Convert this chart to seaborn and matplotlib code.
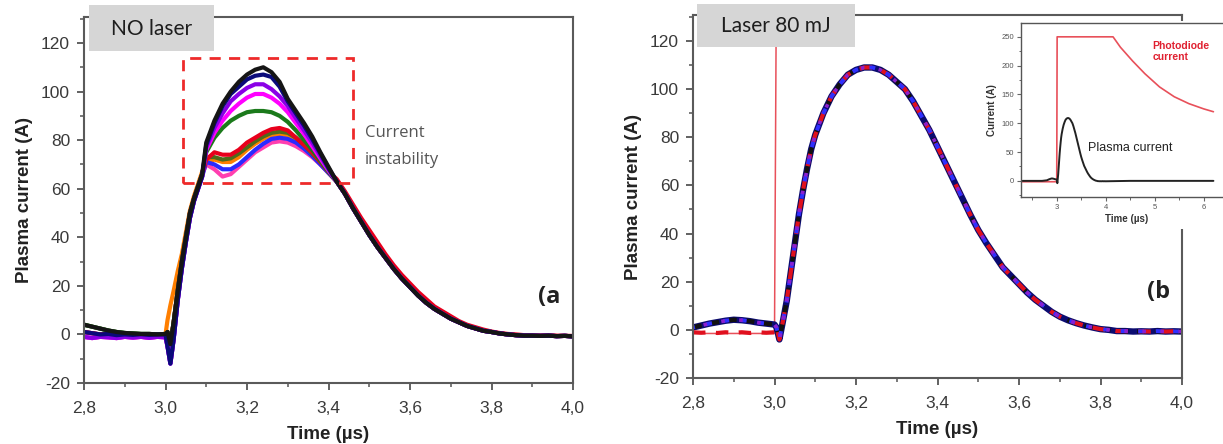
import matplotlib
matplotlib.use("Agg")
import matplotlib.pyplot as plt
import matplotlib.patches as mpatches
from matplotlib.ticker import MultipleLocator, FuncFormatter
import pandas as pd
import seaborn as sns

# ---------------------------------------------------------------- time base (µs)
time_pre = [2.80, 2.82, 2.84, 2.86, 2.88, 2.90, 2.92, 2.94, 2.96, 2.98, 3.00]
time_rise = [3.005, 3.012, 3.02, 3.03, 3.04, 3.05, 3.06, 3.07, 3.08, 3.09]
time_peak = [3.10, 3.12, 3.14, 3.16, 3.18, 3.20, 3.22, 3.24, 3.26, 3.28,
             3.30, 3.32, 3.34, 3.36, 3.38, 3.40]
time_tail = [3.42, 3.44, 3.46, 3.48, 3.50, 3.52, 3.54, 3.56, 3.58, 3.60,
             3.62, 3.64, 3.66, 3.68, 3.70, 3.72, 3.74, 3.76, 3.78, 3.80,
             3.82, 3.84, 3.86, 3.88, 3.90, 3.92, 3.94, 3.96, 3.98, 4.00]

# ---------------------------------------------------------------- (a) no laser
base_a_hi = [4.0, 3.2, 2.4, 1.6, 1.0, 0.6, 0.4, 0.2, 0.2, 0.0, 0.2]
base_a = [1.0, 0.5, 0.0, 0.2, -0.3, 0.0, -0.2, 0.1, -0.2, 0.0, 0.0]
base_a_lo = [-1.0, -1.5, -1.0, -1.2, -1.5, -1.0, -1.3, -1.0, -1.4, -1.0, -1.2]

rise_a = [1.0, -4.0, 5.0, 18.0, 30.0, 40.0, 50.0, 56.0, 61.0, 66.0]
rise_a_dip = [-5.0, -12.0, -2.0, 14.0, 27.0, 38.0, 48.0, 55.0, 60.0, 65.0]
rise_a_early = [6.0, 12.0, 18.0, 26.0, 33.0, 42.0, 51.0, 57.0, 62.0, 67.0]

peak_black = [79, 88, 95, 100, 104, 107, 109, 110, 108, 104, 97, 92, 87, 81.5, 75, 69]
peak_navy = [78, 87, 94, 99, 102, 105, 106.5, 107, 106, 102, 96, 91, 86, 80.5, 74.5, 68.5]
peak_purple = [77, 85, 91, 96, 99, 101.5, 103, 103, 101, 98, 94, 89, 84, 79, 73.5, 68]
peak_magenta = [76, 83, 88, 92, 95, 97.5, 99, 99, 97.5, 95, 91.5, 87, 82.5, 77.5, 72.5, 67.5]
peak_green = [75, 81, 85, 88, 90, 91.5, 92, 92, 91.5, 90, 87.5, 84, 80, 76, 71.5, 67]
peak_red = [72, 75, 74, 74, 76, 79, 81, 83, 84.5, 85, 84, 81, 78, 75, 71, 67]
peak_orange = [71, 72, 71, 71, 73, 76, 78.5, 80.5, 82, 82.5, 82, 80, 77, 74, 70.5, 66.5]
peak_pink = [70, 68, 65, 66, 69, 72, 75, 77, 79, 79.5, 79, 77.5, 75.5, 73, 70, 66.5]
peak_blue_low = [71, 70, 68, 68, 70, 73, 76, 78.5, 80.5, 81, 80.5, 79, 76.5, 73.5, 70, 66.5]
peak_olive_low = [73, 73, 72, 72.5, 74.5, 77, 79.5, 81.5, 83, 83.5, 83, 81, 78, 74.5, 71, 67]

tail_a = [63, 58, 52, 46.5, 41, 36, 31.5, 27, 23, 19.5, 16, 13, 10.5, 8.5, 6.5,
          5, 3.5, 2.5, 1.5, 1, 0.4, 0, -0.3, -0.5, -0.5, -0.6, -0.5, -0.7, -0.6, -0.8]
tail_a_hi = [64, 59, 53.5, 48, 43, 38, 33, 28.5, 24.5, 21, 17.5, 14.5, 11.5, 9.5, 7.5,
             5.5, 4, 3, 2, 1.2, 0.6, 0.2, 0, -0.3, -0.4, -0.5, -0.4, -0.5, -0.6, -0.6]

shots_a = [
    # colour, baseline, rise, peak, tail
    ("#ff7f00", base_a, rise_a_early, peak_orange, tail_a),
    ("#ff3fb0", base_a_lo, rise_a, peak_pink, tail_a),
    ("#2a2aff", base_a, rise_a_dip, peak_blue_low, tail_a),
    ("#4f6b1a", base_a_hi, rise_a, peak_olive_low, tail_a),
    ("#e8001c", base_a, rise_a, peak_red, tail_a_hi),
    ("#1b7a1b", base_a_hi, rise_a, peak_green, tail_a),
    ("#ff00ff", base_a_lo, rise_a_dip, peak_magenta, tail_a),
    ("#8a00e6", base_a_lo, rise_a_dip, peak_purple, tail_a),
    ("#0a0a7a", base_a, rise_a_dip, peak_navy, tail_a),
    ("#151515", base_a_hi, rise_a, peak_black, tail_a),
]

# ---------------------------------------------------------------- (b) laser 80 mJ
base_b_bump = [1.0, 1.8, 2.6, 3.2, 3.8, 4.2, 4.0, 3.6, 3.0, 2.6, 2.2]
base_b_red = [-1.0, -1.2, -1.0, -1.3, -1.0, -1.2, -1.0, -1.3, -1.0, -1.2, -1.0]
rise_b = [1.0, -4.0, 3.0, 12.0, 24.0, 36.0, 48.0, 58.0, 67.0, 75.0]
peak_b = [81, 90, 97, 102, 106, 108, 109, 109, 108, 106, 103, 100, 95, 89, 83, 76]
tail_b = [69, 62, 55, 48, 41.5, 36, 31, 26, 22.5, 19, 15.5, 12.5, 10, 7.5, 5.5,
          4, 2.8, 1.8, 1, 0.3, 0, -0.5, -0.5, -0.7, -0.6, -0.7, -0.5, -0.7, -0.6, -0.7]

shots_b = [
    # colour, baseline, linestyle, width
    ("#0b0b70", base_b_bump, "-", 4.6),
    ("#111111", base_b_bump, (0, (2, 2)), 3.2),
    ("#e0101e", base_b_red, (0, (3, 2.5)), 3.0),
    ("#2f2fff", base_b_bump, (1, (1.5, 3)), 2.8),
    ("#8a1fd0", base_b_bump, (2, (1, 4)), 2.6),
]

# photodiode signal (laser trigger)
photo_time = [2.27, 2.80, 2.99, 3.0, 3.008, 4.15, 4.30, 4.55, 4.80, 5.10, 5.40, 5.70, 6.00, 6.20]
photo_current = [-1.5, -1.5, -1.5, -1.5, 250, 250, 232, 208, 186, 163, 146, 134, 125, 120]

# plasma current over a longer window (inset)
inset_lead_time = [2.30, 2.50, 2.70]
inset_lead = [0.0, 0.0, 0.0]
inset_trail_time = [4.5, 5.0, 5.5, 6.0, 6.2]
inset_trail = [0.0, 0.0, 0.0, 0.0, 0.0]

x_ticks = [2.8, 3.0, 3.2, 3.4, 3.6, 3.8, 4.0]
y_ticks = [-20, 0, 20, 40, 60, 80, 100, 120]

# ---------------------------------------------------------------- styling
sns.set_theme(style="ticks")
plt.rcParams["font.family"] = ["Liberation Sans", "DejaVu Sans"]
plt.rcParams["axes.unicode_minus"] = False

W, H = 1223, 444
fig = plt.figure(figsize=(W / 100, H / 100), dpi=100)
fig.patch.set_facecolor("white")


def fx(px):
    return px / W


def fy(py):
    return 1 - py / H


time_all = time_pre + time_rise + time_peak + time_tail
comma = FuncFormatter(lambda v, p: f"{v:.1f}".replace(".", ","))


def style_axes(ax, ymax):
    ax.set_xlim(2.8, 4.0)
    ax.set_ylim(-20, ymax)
    ax.set_xticks(x_ticks)
    ax.set_yticks(y_ticks)
    ax.xaxis.set_major_formatter(comma)
    ax.xaxis.set_minor_locator(MultipleLocator(0.1))
    ax.yaxis.set_minor_locator(MultipleLocator(10))
    ax.tick_params(which="major", direction="out", length=5, width=1.3,
                   color="#555555", labelsize=12.5, labelcolor="#3a3a3a", pad=5)
    ax.tick_params(axis="x", which="major", pad=8)
    ax.tick_params(which="minor", direction="out", length=3, width=1.1, color="#555555")
    ax.tick_params(top=False, right=False)
    for s in ax.spines.values():
        s.set_visible(True)
        s.set_color("#5a5a5a")
        s.set_linewidth(1.5)
    ax.set_xlabel("Time (\u00b5s)", fontsize=13.5, fontweight="bold", color="#222222", labelpad=7)
    ax.set_ylabel("Plasma current (A)", fontsize=13.5, fontweight="bold", color="#222222", labelpad=6)
    ax.set_facecolor("white")
    ax.grid(False)


# ---------------------------------------------------------------- panel (a)
ax_a = fig.add_axes([fx(84), fy(383), fx(573 - 84), (383 - 17) / H])
for colour, base, rise, peak, tail in shots_a:
    df = pd.DataFrame({"time": time_all, "current": base + rise + peak + tail})
    sns.lineplot(data=df, x="time", y="current", ax=ax_a, color=colour,
                 linewidth=3.0, sort=False, estimator=None)
style_axes(ax_a, 130.7)

box = mpatches.Rectangle((3.043, 62.5), 3.46 - 3.043, 114 - 62.5, fill=False,
                         edgecolor="#ee2a2a", linewidth=2.0, linestyle=(0, (4, 3)), zorder=5)
ax_a.add_patch(box)
ax_a.text(3.49, 83, "Current", fontsize=12, color="#555555", family=["Open Sans", "DejaVu Sans"],
          va="center", ha="left")
ax_a.text(3.49, 72, "instability", fontsize=12, color="#555555", family=["Open Sans", "DejaVu Sans"],
          va="center", ha="left")
ax_a.text(3.915, 15.3, "(a", fontsize=17, fontweight="bold", color="#222222", va="center", ha="left",
          family=["Open Sans", "DejaVu Sans"])

# ---------------------------------------------------------------- panel (b)
ax_b = fig.add_axes([fx(693), fy(378), fx(1182 - 693), (378 - 15) / H])
for colour, base, ls, lw in shots_b:
    df = pd.DataFrame({"time": time_all, "current": base + rise_b + peak_b + tail_b})
    sns.lineplot(data=df, x="time", y="current", ax=ax_b, color=colour,
                 linewidth=lw, linestyle=ls, sort=False, estimator=None)
ax_b.plot(photo_time, photo_current, color="#e8505a", linewidth=1.1, zorder=1)
style_axes(ax_b, 130.8)
ax_b.text(3.915, 15.8, "(b", fontsize=17, fontweight="bold", color="#222222", va="center", ha="left",
          family=["Open Sans", "DejaVu Sans"])

# grey title tags
for (x0, y0, x1, y1, label) in [(89, 5, 214, 51, "NO laser"), (697, 4, 855, 47, "Laser 80 mJ")]:
    fig.add_artist(mpatches.Rectangle((fx(x0), fy(y1)), fx(x1 - x0), (y1 - y0) / H,
                                      transform=fig.transFigure, facecolor="#d6d6d6",
                                      edgecolor="none", zorder=6))
    fig.text(fx((x0 + x1) / 2), fy((y0 + y1) / 2 + 1), label, fontsize=15, color="#1e1e1e",
             ha="center", va="center", family=["Lato", "DejaVu Sans"], zorder=7)

# white backing for the inset
fig.add_artist(mpatches.Rectangle((fx(1000), fy(229)), fx(W - 1000), (229 - 21) / H,
                                  transform=fig.transFigure, facecolor="white",
                                  edgecolor="none", zorder=2))

# ---------------------------------------------------------------- inset
ax_in = fig.add_axes([fx(1021), fy(197), fx(212), (197 - 23) / H], zorder=3)
ax_in.set_facecolor("white")
ax_in.plot(photo_time, photo_current, color="#e8505a", linewidth=1.2)
df_in = pd.DataFrame({"time": inset_lead_time + time_all + inset_trail_time,
                      "current": inset_lead + base_b_bump + rise_b + peak_b + tail_b + inset_trail})
sns.lineplot(data=df_in, x="time", y="current", ax=ax_in, color="#222222",
             linewidth=1.4, sort=False, estimator=None)
ax_in.set_xlim(2.27, 6.6)
ax_in.set_ylim(-28, 274)
ax_in.set_xticks([3, 4, 5, 6])
ax_in.set_yticks([0, 50, 100, 150, 200, 250])
ax_in.xaxis.set_minor_locator(MultipleLocator(0.5))
ax_in.yaxis.set_minor_locator(MultipleLocator(25))
ax_in.tick_params(which="major", direction="out", length=3, width=0.8, color="#666666",
                  labelsize=5.5, labelcolor="#555555", pad=2)
ax_in.tick_params(which="minor", direction="out", length=1.8, width=0.7, color="#666666")
for s in ax_in.spines.values():
    s.set_color("#555555")
    s.set_linewidth(1.0)
ax_in.set_xlabel("Time (\u00b5s)", fontsize=7, fontweight="bold", color="#333333", labelpad=2)
ax_in.set_ylabel("Current (A)", fontsize=7, fontweight="bold", color="#333333", labelpad=3)
ax_in.grid(False)
ax_in.text(3.63, 57, "Plasma current", fontsize=9, color="#222222", va="center", ha="left")
ax_in.text(4.96, 243, "Photodiode\ncurrent", fontsize=7.5, fontweight="bold", color="#e02030",
           va="top", ha="left", linespacing=1.2)

fig.savefig("out.png", dpi=100, facecolor="white")
